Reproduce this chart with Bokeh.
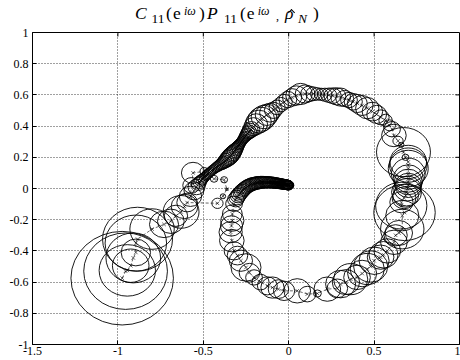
from bokeh.plotting import figure
from bokeh.models import Range1d, FixedTicker, ColumnDataSource, Div
from bokeh.layouts import column
from bokeh.embed import file_html
from bokeh.resources import INLINE

# ---- data: centre (real, imag) and uncertainty radius of each frequency point ----
# low-frequency end (lower left)
low_x = [-0.975, -0.955, -0.945, -0.925, -0.910, -0.895, -0.895, -0.885, -0.800, -0.730,
         -0.690, -0.660, -0.630, -0.610, -0.595]
low_y = [-0.575, -0.530, -0.525, -0.495, -0.445, -0.410, -0.350, -0.325, -0.260, -0.230,
         -0.210, -0.175, -0.150, -0.115, -0.090]
low_r = [0.300, 0.245, 0.165, 0.107, 0.160, 0.086, 0.180, 0.205, 0.130, 0.085,
         0.078, 0.068, 0.105, 0.078, 0.060]

# small excursion near (-0.45, 0)
loop_x = [-0.417, -0.385, -0.362, -0.378, -0.437, -0.495, -0.560, -0.570, -0.575, -0.555, -0.540]
loop_y = [-0.095, -0.050, -0.005, 0.056, 0.062, 0.110, 0.100, 0.020, -0.050, -0.015, 0.010]
loop_r = [0.033, 0.016, 0.007, 0.020, 0.022, 0.024, 0.068, 0.050, 0.065, 0.058, 0.050]

# diagonal branch up to the top
diag_x = [-0.528, -0.521, -0.515, -0.508, -0.500, -0.493, -0.486, -0.479, -0.472, -0.465,
          -0.457, -0.450, -0.442, -0.435, -0.427, -0.420, -0.412, -0.405, -0.397, -0.390,
          -0.382, -0.375, -0.367, -0.360, -0.352, -0.345, -0.339, -0.333, -0.327, -0.321,
          -0.316, -0.310, -0.305, -0.300, -0.295, -0.290, -0.285, -0.280, -0.275, -0.270,
          -0.265, -0.260, -0.255, -0.250, -0.244, -0.238, -0.232, -0.226, -0.219,
          -0.205, -0.190, -0.175, -0.160, -0.145, -0.128, -0.110, -0.090, -0.068, -0.047,
          -0.027, -0.005, 0.020]
diag_y = [0.030, 0.040, 0.050, 0.057, 0.065, 0.072, 0.080, 0.087, 0.094, 0.101,
          0.108, 0.115, 0.121, 0.127, 0.133, 0.139, 0.144, 0.150, 0.155, 0.160,
          0.166, 0.173, 0.180, 0.188, 0.195, 0.203, 0.211, 0.219, 0.227, 0.235,
          0.243, 0.250, 0.258, 0.266, 0.273, 0.281, 0.288, 0.296, 0.303, 0.311,
          0.318, 0.326, 0.333, 0.341, 0.348, 0.356, 0.363, 0.371, 0.379,
          0.396, 0.413, 0.429, 0.444, 0.458, 0.472, 0.486, 0.501, 0.520, 0.538,
          0.555, 0.570, 0.584]
diag_r = [0.042, 0.039, 0.036, 0.034, 0.032, 0.031, 0.030, 0.030, 0.030, 0.029,
          0.029, 0.030, 0.030, 0.030, 0.031, 0.032, 0.033, 0.034, 0.036, 0.038,
          0.040, 0.042, 0.045, 0.047, 0.049, 0.050, 0.050, 0.049, 0.048, 0.046,
          0.044, 0.041, 0.039, 0.037, 0.035, 0.033, 0.032, 0.031, 0.031, 0.031,
          0.032, 0.033, 0.035, 0.037, 0.039, 0.041, 0.044, 0.047, 0.050,
          0.058, 0.066, 0.073, 0.077, 0.075, 0.068, 0.060, 0.052, 0.047, 0.046,
          0.048, 0.052, 0.056]

# top arc
top_x = [0.045, 0.070, 0.096, 0.120, 0.145, 0.168, 0.190, 0.212, 0.235, 0.257,
         0.280, 0.304, 0.328, 0.353, 0.378, 0.402, 0.430, 0.460, 0.490, 0.515,
         0.540, 0.567, 0.590, 0.605, 0.616, 0.640, 0.659]
top_y = [0.596, 0.606, 0.606, 0.607, 0.607, 0.606, 0.604, 0.601, 0.598, 0.595,
         0.591, 0.586, 0.577, 0.567, 0.556, 0.545, 0.532, 0.515, 0.493, 0.475,
         0.456, 0.437, 0.405, 0.380, 0.340, 0.305, 0.280]
top_r = [0.062, 0.068, 0.058, 0.050, 0.044, 0.040, 0.039, 0.042, 0.046, 0.050,
         0.055, 0.058, 0.052, 0.049, 0.053, 0.058, 0.064, 0.068, 0.060, 0.058,
         0.048, 0.039, 0.035, 0.049, 0.072, 0.030, 0.016]

# right-hand side, going down
right_x = [0.672, 0.684, 0.700, 0.700, 0.700, 0.700, 0.700, 0.700, 0.700, 0.695,
           0.690, 0.685, 0.675, 0.660, 0.659, 0.678, 0.665, 0.665, 0.645, 0.626,
           0.616, 0.577, 0.555]
right_y = [0.233, 0.200, 0.170, 0.150, 0.128, 0.095, 0.064, 0.042, 0.020, 0.000,
           -0.024, -0.045, -0.060, -0.088, -0.110, -0.154, -0.174, -0.260, -0.285, -0.300,
           -0.345, -0.400, -0.425]
right_r = [0.158, 0.020, 0.107, 0.110, 0.117, 0.100, 0.088, 0.082, 0.078, 0.080,
           0.088, 0.075, 0.070, 0.068, 0.150, 0.180, 0.097, 0.127, 0.080, 0.068,
           0.078, 0.078, 0.085]

# bottom arc, going left and up the left side
bot_x = [0.538, 0.500, 0.480, 0.460, 0.430, 0.400, 0.363, 0.335, 0.304, 0.285,
         0.226, 0.168, 0.109, 0.050, -0.027, -0.060, -0.095, -0.125, -0.165, -0.203,
         -0.230, -0.250, -0.280, -0.300, -0.320, -0.333, -0.340, -0.335, -0.330, -0.330,
         -0.320]
bot_y = [-0.440, -0.463, -0.500, -0.516, -0.545, -0.570, -0.581, -0.600, -0.613, -0.640,
         -0.645, -0.673, -0.677, -0.656, -0.656, -0.645, -0.635, -0.624, -0.600, -0.570,
         -0.540, -0.506, -0.463, -0.430, -0.400, -0.334, -0.280, -0.240, -0.206, -0.163,
         -0.098]
bot_r = [0.078, 0.088, 0.100, 0.100, 0.085, 0.078, 0.100, 0.080, 0.088, 0.060,
         0.078, 0.023, 0.050, 0.078, 0.062, 0.060, 0.068, 0.058, 0.050, 0.049,
         0.060, 0.088, 0.068, 0.060, 0.058, 0.072, 0.068, 0.065, 0.068, 0.058,
         0.049]

# high-frequency tail ending near the origin
tail_x = [-0.310, -0.303, -0.296, -0.289, -0.281, -0.274, -0.266, -0.258, -0.251, -0.243,
          -0.236, -0.228, -0.221, -0.213, -0.206, -0.199, -0.192, -0.185, -0.178, -0.171,
          -0.164, -0.157, -0.150, -0.143, -0.137, -0.130, -0.124, -0.118, -0.112, -0.106,
          -0.100, -0.094, -0.089, -0.083, -0.078, -0.073, -0.068, -0.063, -0.059, -0.054,
          -0.050, -0.046, -0.042, -0.038, -0.035, -0.031, -0.028, -0.025, -0.022, -0.019,
          -0.017, -0.014, -0.012, -0.010, -0.008, -0.006, -0.005, -0.003, -0.002, -0.001,
          0.000]
tail_y = [-0.070, -0.058, -0.046, -0.036, -0.026, -0.017, -0.008, -0.001, 0.006, 0.012,
          0.017, 0.021, 0.025, 0.028, 0.030, 0.032, 0.034, 0.036, 0.037, 0.038,
          0.039, 0.040, 0.040, 0.040, 0.040, 0.040, 0.040, 0.040, 0.039, 0.039,
          0.038, 0.038, 0.037, 0.036, 0.035, 0.035, 0.034, 0.033, 0.032, 0.032,
          0.031, 0.030, 0.029, 0.029, 0.028, 0.027, 0.027, 0.026, 0.026, 0.025,
          0.025, 0.024, 0.024, 0.023, 0.023, 0.022, 0.022, 0.022, 0.021, 0.021,
          0.021]
tail_r = [0.048, 0.047, 0.046, 0.046, 0.045, 0.045, 0.044, 0.044, 0.043, 0.043,
          0.042, 0.042, 0.042, 0.041, 0.041, 0.040, 0.040, 0.040, 0.040, 0.039,
          0.039, 0.038, 0.038, 0.037, 0.037, 0.037, 0.036, 0.036, 0.036, 0.035,
          0.035, 0.035, 0.035, 0.034, 0.034, 0.034, 0.034, 0.033, 0.033, 0.033,
          0.033, 0.032, 0.032, 0.032, 0.032, 0.032, 0.032, 0.031, 0.031, 0.031,
          0.031, 0.031, 0.031, 0.031, 0.031, 0.030, 0.030, 0.030, 0.030, 0.030,
          0.030]

x_ticks = [-1.5, -1.0, -0.5, 0.0, 0.5, 1.0]
x_tick_labels = ["-1.5", "-1", "-0.5", "0", "0.5", "1"]
y_ticks = [-1.0, -0.8, -0.6, -0.4, -0.2, 0.0, 0.2, 0.4, 0.6, 0.8, 1.0]
y_tick_labels = ["-1", "-0.8", "-0.6", "-0.4", "-0.2", "0", "0.2", "0.4", "0.6", "0.8", "1"]

FONT = "Liberation Serif"
X0, X1, Y0, Y1 = -1.5, 1.0, -1.0, 1.0

cx = low_x + loop_x + diag_x + top_x + right_x + bot_x + tail_x
cy = low_y + loop_y + diag_y + top_y + right_y + bot_y + tail_y
cr = low_r + loop_r + diag_r + top_r + right_r + bot_r + tail_r
src = ColumnDataSource(data=dict(x=cx, y=cy, d=[2 * r for r in cr]))

FRAME_W, FRAME_H = 427, 312
p = figure(width=460, height=336, x_range=Range1d(X0, X1), y_range=Range1d(Y0, Y1),
           output_backend="svg", toolbar_location=None,
           min_border_left=32, min_border_right=1, min_border_top=8, min_border_bottom=16)
p.background_fill_color = "white"
p.border_fill_color = "white"
p.outline_line_color = "black"
p.outline_line_width = 1

for ax, ticks, labels in ((p.xaxis[0], x_ticks, x_tick_labels), (p.yaxis[0], y_ticks, y_tick_labels)):
    ax.ticker = FixedTicker(ticks=ticks)
    ax.major_label_overrides = {t: l for t, l in zip(ticks, labels)}
    ax.major_label_text_font = FONT
    ax.major_label_text_font_size = "12px"
    ax.major_label_text_color = "black"
    ax.major_tick_in = 4
    ax.major_tick_out = 0
    ax.minor_tick_in = 0
    ax.minor_tick_out = 0
    ax.axis_line_color = "black"
    ax.major_tick_line_color = "black"
p.xaxis.major_label_standoff = 2
p.yaxis.major_label_standoff = 4

# inward ticks on the top and right edges of the box (4 px long)
tick_dx = 4 * (X1 - X0) / FRAME_W
tick_dy = 4 * (Y1 - Y0) / FRAME_H
tx = x_ticks[1:-1]
ty = y_ticks[1:-1]
p.segment(x0=tx, y0=[Y1] * len(tx), x1=tx, y1=[Y1 - tick_dy] * len(tx), line_color="black", line_width=1)
p.segment(x0=[X1] * len(ty), y0=ty, x1=[X1 - tick_dx] * len(ty), y1=ty, line_color="black", line_width=1)

p.xgrid.ticker = FixedTicker(ticks=x_ticks)
p.ygrid.ticker = FixedTicker(ticks=y_ticks)
for g in (p.xgrid[0], p.ygrid[0]):
    g.grid_line_color = "black"
    g.grid_line_alpha = 0.75
    g.grid_line_dash = "1 2"
    g.grid_line_width = 1

p.ellipse(x="x", y="y", width="d", height="d", source=src,
          fill_color=None, line_color="black", line_width=0.9)
p.line(x="x", y="y", source=src, line_color="black", line_width=0.6, line_dash="3 2")
p.scatter(x="x", y="y", source=src, marker="x", size=5, line_color="black", line_width=0.6)

# title (math text built from positioned pieces)
def piece(txt, left, baseline, fs, italic=False):
    top = baseline - 0.8375 * fs
    st = "italic" if italic else "normal"
    return (f'<span style="position:absolute;left:{left}px;top:{top:.2f}px;font-size:{fs}px;'
            f'line-height:{fs}px;font-style:{st};white-space:nowrap;">{txt}</span>')

# the hat accent over rho, drawn as a small chevron
hat = ('<span style="position:absolute;left:288.5px;top:9.6px;width:5px;height:5px;'
       'border-left:1px solid black;border-top:1px solid black;transform:rotate(45deg);"></span>')

parts = [
    piece("C", 135, 20, 17.5, True),
    piece("11", 151.5, 23.4, 13.5),
    piece("(", 166, 20, 17.5),
    piece("e", 173, 20, 17.5),
    piece("iω", 184, 15, 12, True),
    piece(")", 199, 20, 17.5),
    piece("P", 207, 20, 17.5, True),
    piece("11", 224, 23.4, 13.5),
    piece("(", 240, 20, 17.5),
    piece("e", 246.7, 20, 17.5),
    piece("iω", 257.7, 15, 12, True),
    piece(",", 276, 20, 12),
    piece("ρ", 285, 20, 17.5, True),
    hat,
    piece("N", 298, 23.4, 13.5, True),
    piece(")", 313, 20, 17.5),
]
html = ('<div style="position:relative;width:460px;height:24px;font-family:\'Liberation Serif\',serif;'
        'color:black;">' + "".join(parts) + "</div>")
title = Div(text=html, width=460, height=24, margin=0)

layout = column(title, p, spacing=0)
open("out.html", "w").write(file_html(layout, INLINE))
